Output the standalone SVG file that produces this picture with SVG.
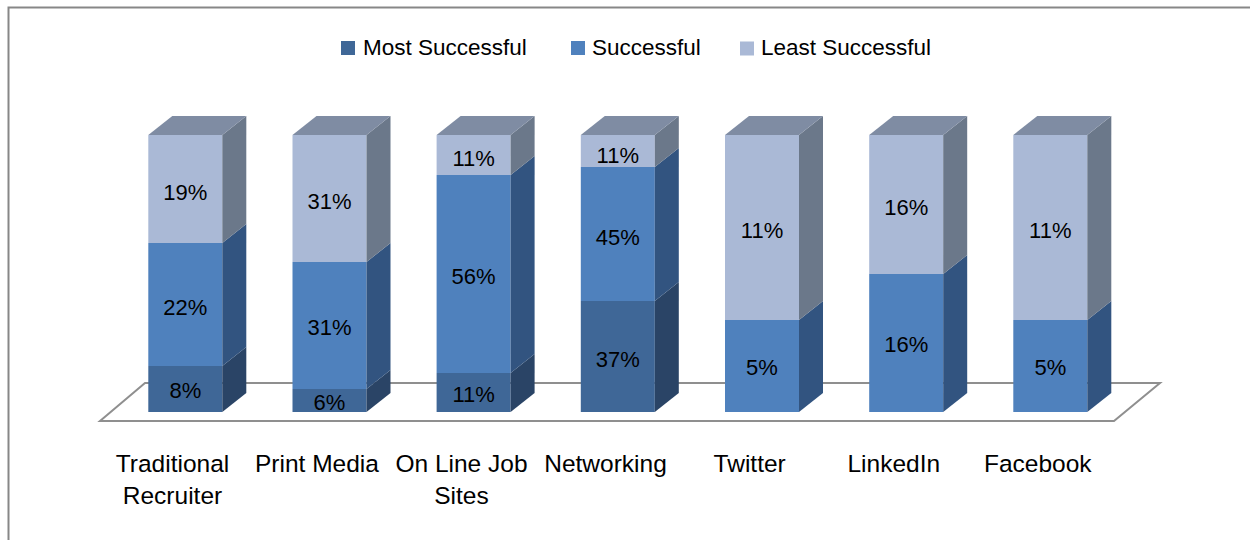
<svg xmlns="http://www.w3.org/2000/svg" width="1250" height="540" viewBox="0 0 1250 540">
<style>
.m{fill:#3F6797}.ms{fill:#2A4466}
.s{fill:#4F81BD}.ss{fill:#325480}
.l{fill:#AAB9D6}.ls{fill:#6B788A}.lt{fill:#7F8CA3}
.v{font-family:"Liberation Sans",Arial,sans-serif;font-size:22px;fill:#000;text-anchor:middle}
.c{font-family:"Liberation Sans",Arial,sans-serif;font-size:24.5px;fill:#000;text-anchor:middle}
.lg{font-family:"Liberation Sans",Arial,sans-serif;font-size:22.5px;fill:#000}
</style>
<rect width="1250" height="540" fill="#fff"/>
<path d="M8.5,545 V7.5 H1255" fill="none" stroke="#878787" stroke-width="2"/>
<g id="legend">
<rect class="m" x="341" y="41" width="14" height="14"/>
<text class="lg" x="363" y="55">Most Successful</text>
<rect class="s" x="571" y="41" width="14" height="14"/>
<text class="lg" x="592" y="55">Successful</text>
<rect class="l" x="740" y="41.5" width="14" height="14"/>
<text class="lg" x="761" y="55">Least Successful</text>
</g>
<g id="floor">
<polygon points="100,421 145,383 1160,383 1114,421" fill="#fff" stroke="#8F8F8F" stroke-width="2"/>
</g>
<g id="bar-traditional-recruiter" transform="translate(148.3,0)">
<rect class="m" x="0" y="366" width="74" height="46"/>
<polygon class="ms" points="74,412 98,393 98,347 74,366"/>
<rect class="s" x="0" y="243" width="74" height="123"/>
<polygon class="ss" points="74,366 98,347 98,224 74,243"/>
<rect class="l" x="0" y="135" width="74" height="108"/>
<polygon class="ls" points="74,243 98,224 98,116 74,135"/>
<polygon class="lt" points="0,135 24,116 98,116 74,135"/>
<text class="v" x="37" y="200">19%</text>
<text class="v" x="37" y="314.5">22%</text>
<text class="v" x="37" y="398">8%</text>
</g>
<g id="bar-print-media" transform="translate(292.5,0)">
<rect class="m" x="0" y="389" width="74" height="23"/>
<polygon class="ms" points="74,412 98,393 98,370 74,389"/>
<rect class="s" x="0" y="262" width="74" height="127"/>
<polygon class="ss" points="74,389 98,370 98,243 74,262"/>
<rect class="l" x="0" y="135" width="74" height="127"/>
<polygon class="ls" points="74,262 98,243 98,116 74,135"/>
<polygon class="lt" points="0,135 24,116 98,116 74,135"/>
<text class="v" x="37" y="209">31%</text>
<text class="v" x="37" y="335">31%</text>
<text class="v" x="37" y="410">6%</text>
</g>
<g id="bar-online-job-sites" transform="translate(436.6,0)">
<rect class="m" x="0" y="373" width="74" height="39"/>
<polygon class="ms" points="74,412 98,393 98,354 74,373"/>
<rect class="s" x="0" y="175" width="74" height="198"/>
<polygon class="ss" points="74,373 98,354 98,156 74,175"/>
<rect class="l" x="0" y="135" width="74" height="40"/>
<polygon class="ls" points="74,175 98,156 98,116 74,135"/>
<polygon class="lt" points="0,135 24,116 98,116 74,135"/>
<text class="v" x="37" y="166">11%</text>
<text class="v" x="37" y="284.3">56%</text>
<text class="v" x="37" y="401.7">11%</text>
</g>
<g id="bar-networking" transform="translate(580.8,0)">
<rect class="m" x="0" y="301" width="74" height="111"/>
<polygon class="ms" points="74,412 98,393 98,282 74,301"/>
<rect class="s" x="0" y="167" width="74" height="134"/>
<polygon class="ss" points="74,301 98,282 98,148 74,167"/>
<rect class="l" x="0" y="135" width="74" height="32"/>
<polygon class="ls" points="74,167 98,148 98,116 74,135"/>
<polygon class="lt" points="0,135 24,116 98,116 74,135"/>
<text class="v" x="37" y="162.7">11%</text>
<text class="v" x="37" y="245">45%</text>
<text class="v" x="37" y="366.7">37%</text>
</g>
<g id="bar-twitter" transform="translate(725,0)">
<rect class="s" x="0" y="320" width="74" height="92"/>
<polygon class="ss" points="74,412 98,393 98,301 74,320"/>
<rect class="l" x="0" y="135" width="74" height="185"/>
<polygon class="ls" points="74,320 98,301 98,116 74,135"/>
<polygon class="lt" points="0,135 24,116 98,116 74,135"/>
<text class="v" x="37" y="238">11%</text>
<text class="v" x="37" y="375">5%</text>
</g>
<g id="bar-linkedin" transform="translate(869.2,0)">
<rect class="s" x="0" y="274" width="74" height="138"/>
<polygon class="ss" points="74,412 98,393 98,255 74,274"/>
<rect class="l" x="0" y="135" width="74" height="139"/>
<polygon class="ls" points="74,274 98,255 98,116 74,135"/>
<polygon class="lt" points="0,135 24,116 98,116 74,135"/>
<text class="v" x="37" y="215">16%</text>
<text class="v" x="37" y="351.5">16%</text>
</g>
<g id="bar-facebook" transform="translate(1013.3,0)">
<rect class="s" x="0" y="320" width="74" height="92"/>
<polygon class="ss" points="74,412 98,393 98,301 74,320"/>
<rect class="l" x="0" y="135" width="74" height="185"/>
<polygon class="ls" points="74,320 98,301 98,116 74,135"/>
<polygon class="lt" points="0,135 24,116 98,116 74,135"/>
<text class="v" x="37" y="238">11%</text>
<text class="v" x="37" y="375">5%</text>
</g>
<g id="category-labels">
<text class="c" x="172.5" y="471.5">Traditional</text>
<text class="c" x="172.5" y="503.5">Recruiter</text>
<text class="c" x="317" y="471.5">Print Media</text>
<text class="c" x="461.5" y="471.5">On Line Job</text>
<text class="c" x="461.5" y="503.5">Sites</text>
<text class="c" x="605.5" y="471.5">Networking</text>
<text class="c" x="749.7" y="471.5">Twitter</text>
<text class="c" x="893.8" y="471.5">LinkedIn</text>
<text class="c" x="1037.8" y="471.5">Facebook</text>
</g>
<g id="connectors"/>
</svg>
